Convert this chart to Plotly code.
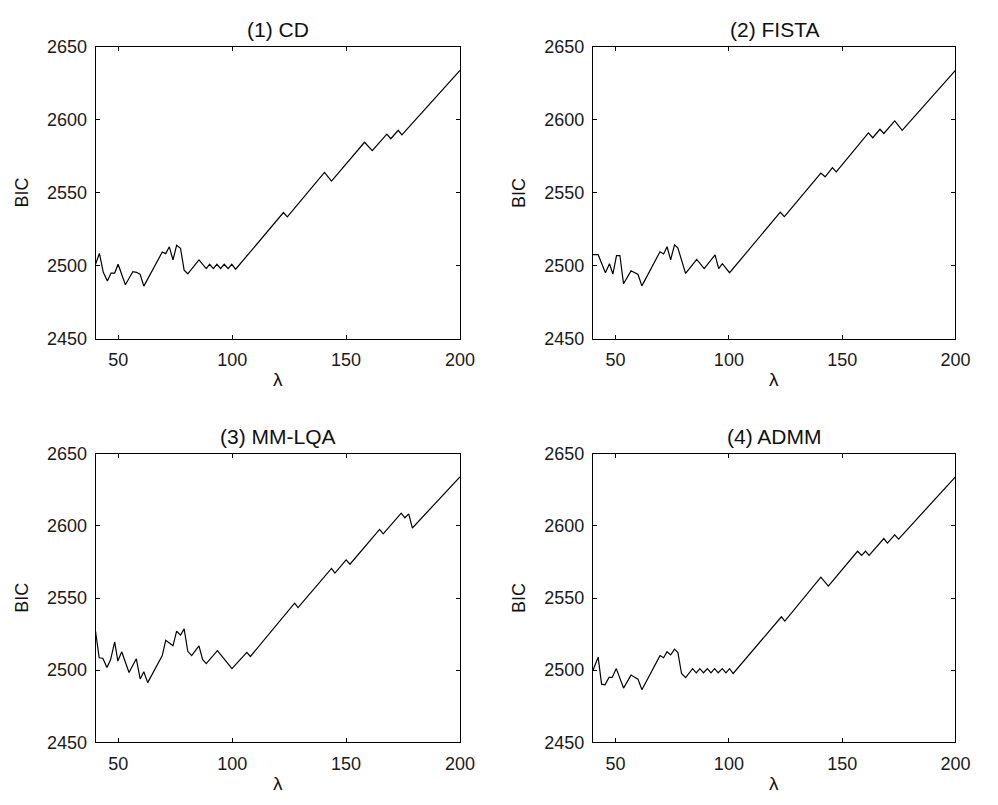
import plotly.graph_objects as go
from plotly.subplots import make_subplots

# ---- data ----
lam_cd = [40, 41.7, 43.4, 45.2, 46.8, 48.4, 49.9, 51.5, 53.1, 56.4, 58.0, 59.6, 61.2, 69.3, 70.8, 72.4,
          74.0, 75.6, 77.3, 78.9, 80.5, 85.4, 88.6, 90.1, 91.7, 93.3, 94.9, 96.5, 98.2, 99.8, 101.5,
          122.5, 124.2, 140.5, 143.6, 158.1, 161.5, 167.9, 169.6, 172.9, 174.5, 200]
bic_cd = [2501, 2508.5, 2495.5, 2489.5, 2495, 2495, 2501, 2494.5, 2487, 2496, 2495.5, 2494, 2486, 2509.4,
          2508.3, 2513, 2504, 2514, 2512, 2497, 2494.5, 2504, 2498, 2501, 2498, 2501, 2498, 2501, 2498,
          2501, 2497.6, 2536.5, 2533.5, 2564, 2558, 2584.7, 2579, 2590.3, 2587.1, 2592.9, 2589.8, 2634]

lam_fista = [40, 42.3, 45.5, 47.3, 48.8, 50.4, 51.9, 53.5, 56.8, 59.9, 61.6, 69.6, 71.2, 72.7, 74.3, 76.0,
             77.5, 80.9, 85.8, 89.1, 93.9, 95.5, 97.1, 100.3, 122.7, 124.5, 140.6, 142.5, 145.7, 147.4,
             161.6, 163.5, 166.7, 168.4, 173.2, 176.5, 200]
bic_fista = [2507.6, 2507.6, 2495.2, 2501.4, 2494.3, 2507, 2507, 2487.6, 2496.5, 2494, 2486.2, 2509.6,
             2508.1, 2513, 2504.1, 2514.3, 2512.1, 2494.7, 2504.3, 2498, 2507.4, 2498, 2501.4, 2495.2,
             2536.7, 2533.7, 2563.5, 2561, 2567.3, 2564.4, 2591.1, 2587.8, 2593.6, 2590.7, 2599.4,
             2592.9, 2634]

lam_mm = [40, 41.6, 43.2, 45.0, 46.6, 48.4, 49.8, 51.5, 54.7, 57.9, 59.6, 61.2, 62.9, 69.3, 70.8, 74.0,
          75.6, 77.3, 78.9, 80.5, 82.2, 85.4, 87.0, 88.6, 93.5, 99.9, 106.4, 108.0, 127.4, 128.9, 143.6,
          145.1, 150.0, 151.7, 164.7, 166.3, 174.2, 175.8, 177.5, 179.1, 200]
bic_mm = [2527, 2508.6, 2508.3, 2501.8, 2507.2, 2519.6, 2506.3, 2512.8, 2498.4, 2507.9, 2493.9, 2498.9,
          2491.4, 2510.1, 2520.7, 2516.9, 2527, 2524.3, 2528.6, 2513.1, 2510.1, 2516.9, 2507.4, 2504.5,
          2513.5, 2501.1, 2512.4, 2509.5, 2546.4, 2543.4, 2570.5, 2567.3, 2576.4, 2573.4, 2597.5,
          2594.4, 2608.8, 2605.6, 2608.3, 2598.5, 2634]

lam_admm = [40, 42.3, 43.8, 45.3, 47.1, 48.5, 50.3, 53.5, 56.8, 59.9, 61.6, 69.6, 71.2, 72.7, 74.3, 76.0,
            77.5, 79.1, 80.9, 84.0, 85.6, 87.2, 88.8, 90.5, 92.1, 93.7, 95.3, 97.1, 98.7, 100.3, 101.9,
            123.2, 124.7, 140.6, 143.9, 156.8, 158.6, 160.3, 161.9, 168.4, 170.0, 173.2, 174.9, 200]
bic_admm = [2500, 2509, 2490.3, 2489.9, 2495, 2495, 2501.1, 2487.6, 2496.6, 2493.7, 2486.5, 2510.1,
            2508.6, 2512.8, 2510.6, 2514.6, 2512.2, 2497.7, 2494.8, 2501.1, 2498.2, 2501.1, 2498.2,
            2501.1, 2498.2, 2501.1, 2498.2, 2501.1, 2498.2, 2501.1, 2497.7, 2537, 2534, 2564.4, 2558.3,
            2582.4, 2579.5, 2582.4, 2579.5, 2591.2, 2588, 2593.7, 2590.8, 2634]

titles = ["(1) CD", "(2) FISTA", "(3) MM-LQA", "(4) ADMM"]
x_ticks = [50, 100, 150, 200]
y_ticks = [2450, 2500, 2550, 2600, 2650]
x_label = "λ"
y_label = "BIC"

series = [(lam_cd, bic_cd), (lam_fista, bic_fista), (lam_mm, bic_mm), (lam_admm, bic_admm)]

W, H = 998, 805
FONT = "Liberation Sans, Arial, Helvetica, sans-serif"

# pixel layout of plot areas
cols_px = [(97, 467), (602, 970)]
rows_px = [(38, 337), (455, 751)]

fig = make_subplots(rows=2, cols=2)

for i, (xs, ys) in enumerate(series):
    r, c = i // 2 + 1, i % 2 + 1
    fig.add_trace(go.Scatter(x=xs, y=ys, mode="lines",
                             line=dict(color="black", width=1.2),
                             showlegend=False, hoverinfo="skip"), row=r, col=c)

annotations = []
for i in range(4):
    r, c = i // 2, i % 2
    x0, x1 = cols_px[c]
    y0, y1 = rows_px[r]
    xd = [x0 / W, x1 / W]
    yd = [1 - y1 / H, 1 - y0 / H]
    idx = "" if i == 0 else str(i + 1)
    fig.layout["xaxis" + idx].update(
        domain=xd, range=[40, 200], tickvals=x_ticks, ticks="inside", ticklen=4,
        showline=True, linecolor="black", linewidth=1, mirror="ticks",
        showgrid=False, zeroline=False, tickcolor="black",
        tickfont=dict(family=FONT, size=18, color="#1a1a1a"), ticklabelstandoff=5)
    fig.layout["yaxis" + idx].update(
        domain=yd, range=[2450, 2650], tickvals=y_ticks, ticks="inside", ticklen=4,
        showline=True, linecolor="black", linewidth=1, mirror="ticks",
        showgrid=False, zeroline=False, tickcolor="black",
        tickfont=dict(family=FONT, size=18, color="#1a1a1a"), ticklabelstandoff=4)
    cx = (x0 + x1) / 2
    # title
    annotations.append(dict(text=titles[i], x=cx / W, y=1 - (y0 - 18) / H, xref="paper", yref="paper",
                            xanchor="center", yanchor="middle", showarrow=False,
                            font=dict(family=FONT, size=21, color="#111")))
    # x label
    annotations.append(dict(text=x_label, x=cx / W, y=1 - (y1 + 42) / H, xref="paper", yref="paper",
                            xanchor="center", yanchor="middle", showarrow=False,
                            font=dict(family=FONT, size=19, color="#111")))
    # y label
    annotations.append(dict(text=y_label, x=(x0 - 75) / W, y=1 - ((y0 + y1) / 2) / H, xref="paper",
                            yref="paper", xanchor="center", yanchor="middle", showarrow=False,
                            textangle=-90, font=dict(family=FONT, size=18, color="#111")))

fig.update_layout(width=W, height=H, margin=dict(l=0, r=0, t=0, b=0),
                  paper_bgcolor="white", plot_bgcolor="white", annotations=annotations)

fig.write_html("out.html")
